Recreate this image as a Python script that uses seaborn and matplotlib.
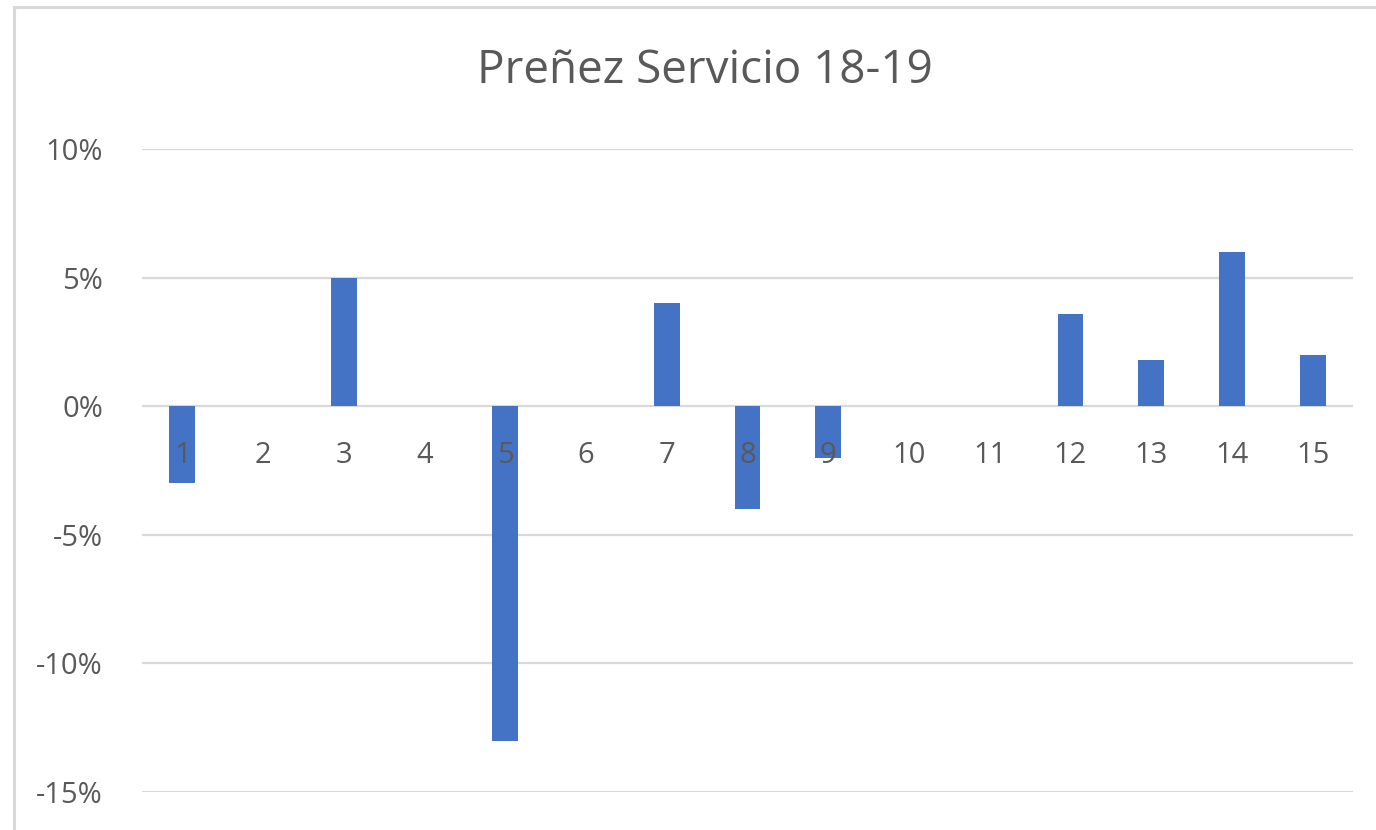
"""
prenez_servicio.py

Bar chart of pregnancy-by-service change, 2018-19.
"""

import matplotlib.pyplot as plt
import matplotlib.patches as mpatches
import pandas as pd
import seaborn as sns
from matplotlib.ticker import FuncFormatter

categories = [str(i) for i in range(1, 16)]
values = [-3.0, 0.0, 5.0, 0.0, -13.0, 0.0, 4.0, -4.0, -2.0, 0.0, 0.0, 3.6, 1.8, 6.0, 2.0]
y_ticks = [10, 5, 0, -5, -10, -15]

TEXT = "#595959"
GRID = "#D9D9D9"
BAR = "#4472C4"


def main():
    sns.set_theme(style="white")
    plt.rcParams["font.family"] = ["Open Sans", "DejaVu Sans"]

    df = pd.DataFrame({"Servicio": categories, "Prenez": values})

    fig = plt.figure(figsize=(13.76, 8.30), dpi=100)
    ax = fig.add_axes([142 / 1376, 1 - 792 / 830, (1353 - 142) / 1376, (792 - 149) / 830])

    # gridlines behind the bars, tick labels (axis) on top of them
    for t in y_ticks:
        ax.axhline(t, color=GRID, linewidth=1.6, zorder=1)

    sns.barplot(data=df, x="Servicio", y="Prenez", color=BAR, width=0.32,
                saturation=1, linewidth=0, ax=ax, zorder=2)

    ax.set_ylim(-15, 10)
    ax.set_yticks(y_ticks)
    ax.yaxis.set_major_formatter(FuncFormatter(lambda v, _: f"{v:.0f}%"))
    ax.grid(False)
    ax.set_axisbelow(False)
    for side in ("left", "right", "top", "bottom"):
        ax.spines[side].set_visible(False)

    ax.set_xlabel("")
    ax.set_ylabel("")
    ax.xaxis.set_ticks_position("bottom")
    ax.tick_params(axis="x", length=0, labelsize=21, labelcolor=TEXT)
    ax.tick_params(axis="y", length=0, pad=28, labelsize=21, labelcolor=TEXT)
    # category labels sit just under the zero line, as in the original
    for lbl in ax.get_xticklabels():
        lbl.set_y(0.553)

    fig.text(705 / 1376, 1 - 71 / 830, "Preñez Servicio 18-19", ha="center",
             va="center", fontsize=33, color=TEXT)

    # outer chart border (bottom edge is cropped off)
    fig.patches.append(mpatches.Rectangle((14 / 1376, -0.05), 1.2, 1 - 7 / 830 + 0.05,
                                          transform=fig.transFigure, fill=False,
                                          edgecolor=GRID, linewidth=2.2))

    fig.savefig("out.png", dpi=100)


if __name__ == "__main__":
    main()
